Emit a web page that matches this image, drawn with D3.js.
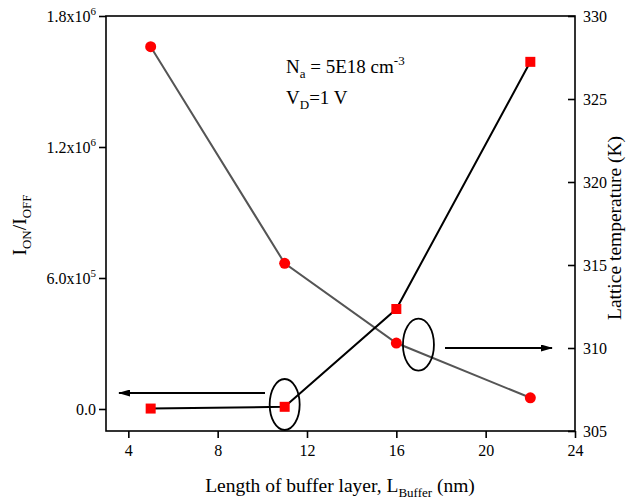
<!DOCTYPE html>
<html>
<head>
<meta charset="utf-8">
<script src="https://cdn.jsdelivr.net/npm/d3@7"></script>
<style>
  body { margin: 0; background: #fff; }
  svg text { font-family: "Liberation Serif", "Times New Roman", serif; fill: #000; }
</style>
</head>
<body>
<svg id="chart" width="630" height="502"></svg>
<script>
// Buffer length (nm) for each simulated device
const bufferLength = [5, 11, 16, 22];
// ON/OFF current ratio (left axis)
const ionIoff = [2000, 10000, 458000, 1590000];
// Lattice temperature in K (right axis)
const latticeTemp = [328.15, 315.1, 310.3, 307.0];

const xTicks = [4, 8, 12, 16, 20, 24];
const yLeftTicks = [0, 6e5, 1.2e6, 1.8e6];
const yLeftTickLabels = ["0.0", "6.0x10|5", "1.2x10|6", "1.8x10|6"];
const yRightTicks = [305, 310, 315, 320, 325, 330];

const svg = d3.select("#chart");
const plotL = 106, plotR = 575, plotT = 16, plotB = 431;
const tickFont = 16;

const x = d3.scaleLinear().domain([3, 24]).range([plotL, plotR]);
const yL = d3.scaleLinear().domain([-1.008e5, 1.8e6]).range([plotB, plotT]);
const yR = d3.scaleLinear().domain([305, 330]).range([plotB, plotT]);

// Frame
svg.append("rect").attr("x", plotL).attr("y", plotT)
  .attr("width", plotR - plotL).attr("height", plotB - plotT)
  .attr("fill", "none").attr("stroke", "#000").attr("stroke-width", 1.6);

// Bottom axis
const xAxis = svg.append("g").attr("transform", `translate(0,${plotB})`)
  .call(d3.axisBottom(x).tickValues(xTicks).tickSize(7).tickPadding(7).tickFormat(d3.format("d")));
xAxis.select(".domain").remove();
xAxis.selectAll("line").attr("stroke-width", 1.6);
xAxis.selectAll("text").attr("font-size", tickFont).style("font-family", "Liberation Serif");

// Left axis with superscripted exponents
const yAxisL = svg.append("g").attr("transform", `translate(${plotL},0)`)
  .call(d3.axisLeft(yL).tickValues(yLeftTicks).tickSize(7).tickPadding(3).tickFormat(() => ""));
yAxisL.select(".domain").remove();
yAxisL.selectAll("line").attr("stroke-width", 1.6);
yAxisL.selectAll(".tick text").each(function(d, i) {
  const t = d3.select(this).attr("font-size", tickFont).style("font-family", "Liberation Serif");
  const parts = yLeftTickLabels[i].split("|");
  t.append("tspan").text(parts[0]);
  if (parts[1]) {
    t.append("tspan").attr("font-size", 11).attr("dy", -7).text(parts[1]);
  }
});

// Right axis, ticks drawn inward
const yAxisR = svg.append("g").attr("transform", `translate(${plotR},0)`)
  .call(d3.axisRight(yR).tickValues(yRightTicks).tickSize(0).tickPadding(8).tickFormat(d3.format("d")));
yAxisR.select(".domain").remove();
yAxisR.selectAll(".tick line").attr("x1", -7).attr("x2", 0).attr("stroke-width", 1.6);
yAxisR.selectAll("text").attr("font-size", tickFont).style("font-family", "Liberation Serif");

// Axis titles
svg.append("text").attr("x", 340).attr("y", 492).attr("text-anchor", "middle").attr("font-size", 19.5)
  .call(t => {
    t.append("tspan").text("Length of buffer layer, L");
    t.append("tspan").attr("font-size", 13).attr("dy", 5).text("Buffer");
    t.append("tspan").attr("dy", -5).text(" (nm)");
  });

svg.append("text").attr("transform", "translate(26,225) rotate(-90)").attr("text-anchor", "middle").attr("font-size", 19.5)
  .call(t => {
    t.append("tspan").text("I");
    t.append("tspan").attr("font-size", 13).attr("dy", 5).text("ON");
    t.append("tspan").attr("dy", -5).text("/I");
    t.append("tspan").attr("font-size", 13).attr("dy", 5).text("OFF");
  });

svg.append("text").attr("transform", "translate(621,228) rotate(-90)").attr("text-anchor", "middle").attr("font-size", 19.5)
  .text("Lattice temperature (K)");

// Device parameters
svg.append("text").attr("x", 286).attr("y", 73).attr("font-size", 19)
  .call(t => {
    t.append("tspan").text("N");
    t.append("tspan").attr("font-size", 13).attr("dy", 5).text("a");
    t.append("tspan").attr("dy", -5).text(" = 5E18 cm");
    t.append("tspan").attr("font-size", 13).attr("dy", -8).text("-3");
  });
svg.append("text").attr("x", 286).attr("y", 104).attr("font-size", 19)
  .call(t => {
    t.append("tspan").text("V");
    t.append("tspan").attr("font-size", 13).attr("dy", 5).text("D");
    t.append("tspan").attr("dy", -5).text("=1 V");
  });

// Series lines
const ratioPts = bufferLength.map((v, i) => [v, ionIoff[i]]);
const tempPts = bufferLength.map((v, i) => [v, latticeTemp[i]]);

svg.append("path").datum(tempPts)
  .attr("d", d3.line().x(d => x(d[0])).y(d => yR(d[1])))
  .attr("fill", "none").attr("stroke", "#555").attr("stroke-width", 2);
svg.append("path").datum(ratioPts)
  .attr("d", d3.line().x(d => x(d[0])).y(d => yL(d[1])))
  .attr("fill", "none").attr("stroke", "#000").attr("stroke-width", 2);

// Markers
svg.selectAll("circle.temp").data(tempPts).enter().append("circle")
  .attr("class", "temp").attr("cx", d => x(d[0])).attr("cy", d => yR(d[1])).attr("r", 5.5)
  .attr("fill", "#ff0000");
const sq = 10;
svg.selectAll("rect.ratio").data(ratioPts).enter().append("rect")
  .attr("class", "ratio").attr("x", d => x(d[0]) - sq / 2).attr("y", d => yL(d[1]) - sq / 2)
  .attr("width", sq).attr("height", sq).attr("fill", "#ff0000");

// Ellipses and arrows linking each series to its axis
svg.append("defs").append("marker").attr("id", "arrowHead")
  .attr("viewBox", "0 0 12 7").attr("refX", 11).attr("refY", 3.5)
  .attr("markerWidth", 6).attr("markerHeight", 3.5).attr("orient", "auto")
  .append("path").attr("d", "M0,0 L12,3.5 L0,7 Z").attr("fill", "#000");

svg.append("ellipse").attr("cx", x(11)).attr("cy", 404.5).attr("rx", 15).attr("ry", 25.5)
  .attr("fill", "none").attr("stroke", "#000").attr("stroke-width", 1.8);
svg.append("ellipse").attr("cx", x(16.99)).attr("cy", yR(310.2)).attr("rx", 15.5).attr("ry", 26)
  .attr("fill", "none").attr("stroke", "#000").attr("stroke-width", 1.8);

svg.append("line").attr("x1", 265).attr("y1", 393).attr("x2", 119).attr("y2", 393)
  .attr("stroke", "#000").attr("stroke-width", 2).attr("marker-end", "url(#arrowHead)");
svg.append("line").attr("x1", 445).attr("y1", yR(310)).attr("x2", 552).attr("y2", yR(310))
  .attr("stroke", "#000").attr("stroke-width", 2).attr("marker-end", "url(#arrowHead)");
</script>
</body>
</html>
